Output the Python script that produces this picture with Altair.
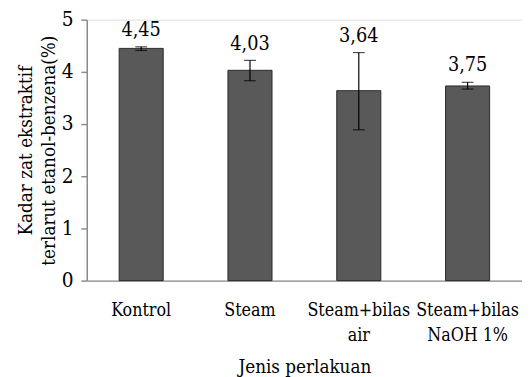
import altair as alt
import pandas as pd

categories = ["Kontrol", "Steam", "Steam+bilas air", "Steam+bilas NaOH 1%"]
values = [4.45, 4.03, 3.64, 3.73]
labels = ["4,45", "4,03", "3,64", "3,75"]
err_low = [4.41, 3.83, 2.89, 3.67]
err_high = [4.48, 4.22, 4.37, 3.80]

df = pd.DataFrame({
    "cat": categories,
    "val": values,
    "lab": labels,
    "lo": err_low,
    "hi": err_high,
})

FONT = "DejaVu Serif Condensed"

x = alt.X(
    "cat:N",
    sort=categories,
    scale=alt.Scale(paddingInner=0.595, paddingOuter=0.2975),
    axis=alt.Axis(
        title="Jenis perlakuan",
        labelAngle=0,
        ticks=False,
        domainColor="#8c8c8c",
        domainWidth=1.5,
        labelFont=FONT,
        labelFontSize=18,
        labelColor="black",
        labelPadding=21,
        labelLineHeight=26,
        labelExpr="indexof(datum.label, 'Steam+bilas ') == 0 ? ['Steam+bilas', substring(datum.label, 12)] : datum.label",
        titleFont=FONT,
        titleFontSize=19,
        titleFontWeight="normal",
        titleColor="black",
        titlePadding=13,
    ),
)

xs = alt.X("cat:N", sort=categories)

bars = alt.Chart(df).mark_bar(color="#595959", stroke="#2a2a2a", strokeWidth=1).encode(
    x=x,
    y=alt.Y(
        "val:Q",
        scale=alt.Scale(domain=[0, 5]),
        axis=alt.Axis(
            values=[0, 1, 2, 3, 4, 5],
            grid=False,
            domainColor="#8c8c8c",
            domainWidth=1.5,
            tickColor="#8c8c8c",
            tickSize=6,
            tickWidth=1.5,
            labelFont=FONT,
            labelFontSize=21,
            labelColor="black",
            labelPadding=8,
            title=["Kadar zat ekstraktif", "terlarut etanol-benzena(%)"],
            titleFont=FONT,
            titleFontSize=19,
            titleFontWeight="normal",
            titleColor="black",
            titleLineHeight=23,
            titlePadding=3,
        ),
    ),
)

rule = alt.Chart(df).mark_rule(color="black", strokeWidth=1.2).encode(
    x=xs, y=alt.Y("lo:Q"), y2="hi:Q",
)
cap_lo = alt.Chart(df).mark_tick(color="black", size=12, thickness=1.2, orient="horizontal").encode(
    x=xs, y=alt.Y("lo:Q"),
)
cap_hi = alt.Chart(df).mark_tick(color="black", size=12, thickness=1.2, orient="horizontal").encode(
    x=xs, y=alt.Y("hi:Q"),
)

text = alt.Chart(df).mark_text(font=FONT, fontSize=20, color="black", baseline="alphabetic", dy=-11).encode(
    x=xs,
    y=alt.Y("hi:Q"),
    text="lab:N",
)

chart = alt.layer(bars, rule, cap_lo, cap_hi, text).properties(
    width=442,
    height=265,
    autosize=alt.AutoSizeParams(type="none"),
    padding={"left": 80, "top": 9, "right": 0, "bottom": 95},
).configure_view(stroke=None).configure(background="white")

chart.save("out.html", embed_options={"renderer": "svg", "actions": False})
